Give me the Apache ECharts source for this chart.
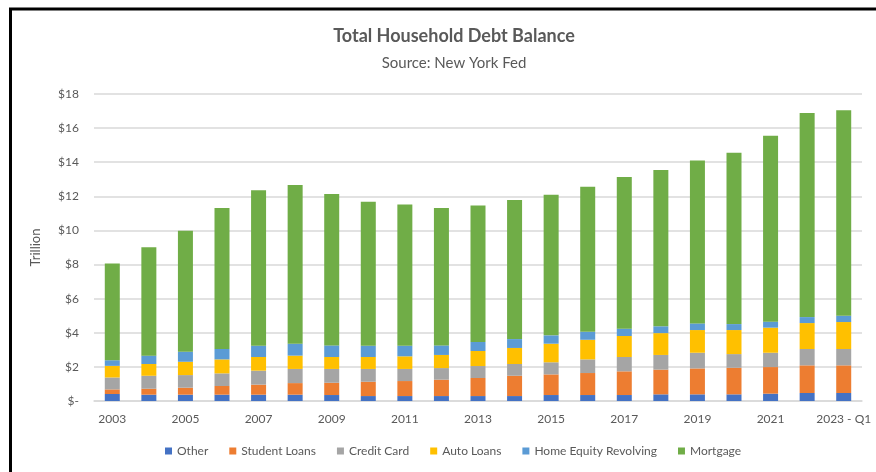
<!DOCTYPE html>
<html>
<head>
<meta charset="utf-8">
<script src="https://cdn.jsdelivr.net/npm/echarts@6/dist/echarts.min.js"></script>
<style>
html,body{margin:0;padding:0;background:#fff;}
#chart{width:876px;height:472px;}
</style>
</head>
<body>
<div id="chart"></div>
<script>
const categories = ['2003','2004','2005','2006','2007','2008','2009','2010','2011','2012','2013','2014','2015','2016','2017','2018','2019','2020','2021','2022','2023 - Q1'];
const other        = [0.41,0.37,0.37,0.37,0.37,0.37,0.35,0.29,0.29,0.29,0.29,0.29,0.35,0.35,0.35,0.39,0.39,0.39,0.43,0.47,0.47];
const studentLoans = [0.27,0.35,0.41,0.51,0.59,0.68,0.72,0.84,0.88,0.96,1.06,1.19,1.21,1.29,1.39,1.45,1.52,1.56,1.56,1.62,1.62];
const creditCard   = [0.70,0.76,0.74,0.74,0.82,0.83,0.81,0.75,0.71,0.68,0.70,0.69,0.71,0.80,0.84,0.86,0.92,0.80,0.84,0.96,0.96];
const autoLoans    = [0.68,0.69,0.78,0.82,0.80,0.78,0.70,0.70,0.74,0.77,0.88,0.94,1.09,1.15,1.23,1.28,1.33,1.41,1.47,1.52,1.58];
const homeEquity   = [0.33,0.49,0.59,0.61,0.66,0.70,0.68,0.66,0.62,0.56,0.53,0.52,0.49,0.47,0.43,0.40,0.39,0.35,0.35,0.35,0.37];
const mortgage     = [5.67,6.36,7.09,8.26,9.12,9.30,8.87,8.44,8.28,8.05,8.00,8.15,8.24,8.50,8.90,9.16,9.55,10.04,10.90,11.96,12.05];
const seriesNames  = ['Other','Student Loans','Credit Card','Auto Loans','Home Equity Revolving','Mortgage'];
const seriesData   = [other, studentLoans, creditCard, autoLoans, homeEquity, mortgage];
const colors = ['#4472C4','#ED7D31','#A5A5A5','#FFC000','#5B9BD5','#70AD47'];

const FONT = 'Lato';
const chart = echarts.init(document.getElementById('chart'), null, {renderer:'canvas'});
chart.setOption({
  animation: false,
  color: colors,
  textStyle: {fontFamily: FONT},
  title: [
    {text: 'Total Household Debt Balance', left: 449, top: 22, textAlign: 'center',
     textStyle: {fontFamily: FONT, fontSize: 18, fontWeight: 'bold', color: '#595959'}},
    {text: 'Source: New York Fed', left: 449, top: 51, textAlign: 'center',
     textStyle: {fontFamily: FONT, fontSize: 15, fontWeight: 'normal', color: '#595959'}}
  ],
  graphic: [
    {type: 'polyline', shape: {points: [[10.5, 480], [10.5, 9], [880, 9]]},
     style: {stroke: '#000', lineWidth: 3, fill: null}, silent: true}
  ],
  grid: {left: 94, right: 14, top: 94, bottom: 71, containLabel: false},
  legend: {
    top: 440, left: 160,
    itemWidth: 7, itemHeight: 7, itemGap: 21, icon: 'rect',
    textStyle: {fontFamily: FONT, fontSize: 12, color: '#595959'},
    data: seriesNames
  },
  xAxis: {
    type: 'category', data: categories,
    axisTick: {show: false},
    axisLine: {lineStyle: {color: '#d9d9d9', width: 1.5}},
    axisLabel: {interval: 1, color: '#595959', fontFamily: FONT, fontSize: 12, margin: 12}
  },
  yAxis: {
    type: 'value', min: 0, max: 18, interval: 2,
    name: 'Trillion', nameLocation: 'middle', nameGap: 52,
    nameTextStyle: {fontFamily: FONT, fontSize: 13, color: '#595959'},
    axisLine: {show: false}, axisTick: {show: false},
    splitLine: {lineStyle: {color: '#d9d9d9', width: 1.5}},
    axisLabel: {margin: 15, color: '#595959', fontFamily: FONT, fontSize: 12,
      formatter: v => v === 0 ? '$-' : '$' + v}
  },
  series: seriesNames.map((n, i) => ({
    name: n, type: 'bar', stack: 'total', barWidth: 15,
    data: seriesData[i],
    itemStyle: {color: colors[i]}
  }))
});
</script>
</body>
</html>
